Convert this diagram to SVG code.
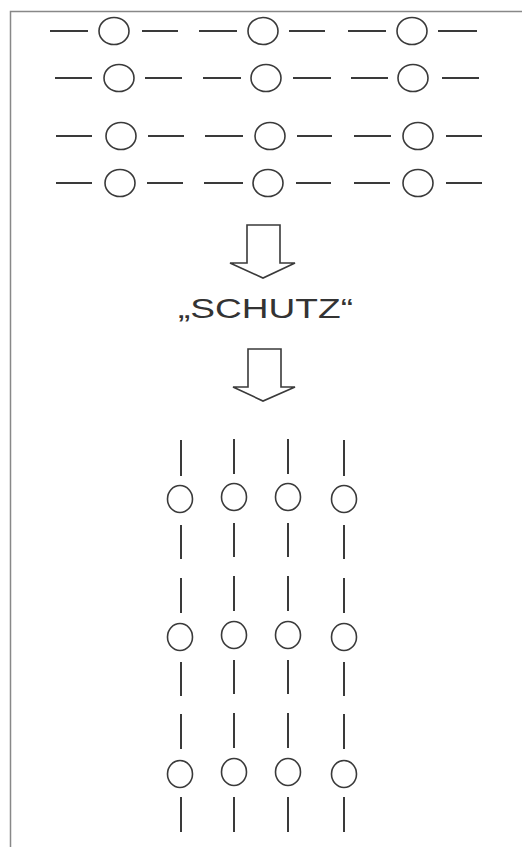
<svg xmlns="http://www.w3.org/2000/svg" width="522" height="847" viewBox="0 0 522 847">
<style>
.d{stroke:#3a3a3a;stroke-width:2;fill:none}
.c{stroke:#3a3a3a;stroke-width:1.6;fill:none}
.a{stroke:#3a3a3a;stroke-width:1.6;fill:none;stroke-linejoin:miter}
.t{font-family:"Liberation Sans",Arial,sans-serif;font-size:28px;fill:#333}
</style>
<rect x="0" y="0" width="522" height="847" fill="#fff"/>
<path d="M10.5 847 V11.5 H522" stroke="#888" stroke-width="1.5" fill="none"/>
<g id="top-rows">
<g id="row1">
<line class="d" x1="50" y1="31" x2="88" y2="31"/><ellipse class="c" cx="114" cy="31" rx="15" ry="13.5"/><line class="d" x1="142" y1="31" x2="178" y2="31"/>
<line class="d" x1="199" y1="31" x2="237" y2="31"/><ellipse class="c" cx="263" cy="31" rx="15" ry="13.5"/><line class="d" x1="289" y1="31" x2="325" y2="31"/>
<line class="d" x1="348" y1="31" x2="386" y2="31"/><ellipse class="c" cx="412" cy="31" rx="15" ry="13.5"/><line class="d" x1="438" y1="31" x2="477" y2="31"/>
</g>
<g id="row2">
<line class="d" x1="55" y1="78" x2="92" y2="78"/><ellipse class="c" cx="119" cy="78" rx="15" ry="13.5"/><line class="d" x1="145" y1="78" x2="182" y2="78"/>
<line class="d" x1="203" y1="78" x2="241" y2="78"/><ellipse class="c" cx="266" cy="78" rx="15" ry="13.5"/><line class="d" x1="293" y1="78" x2="331" y2="78"/>
<line class="d" x1="351" y1="78" x2="388" y2="78"/><ellipse class="c" cx="413" cy="78" rx="15" ry="13.5"/><line class="d" x1="442" y1="78" x2="479" y2="78"/>
</g>
<g id="row3">
<line class="d" x1="56" y1="136" x2="92" y2="136"/><ellipse class="c" cx="121" cy="136" rx="15" ry="13.5"/><line class="d" x1="148" y1="136" x2="184" y2="136"/>
<line class="d" x1="205" y1="136" x2="243" y2="136"/><ellipse class="c" cx="270" cy="136" rx="15" ry="13.5"/><line class="d" x1="297" y1="136" x2="332" y2="136"/>
<line class="d" x1="354" y1="136" x2="391" y2="136"/><ellipse class="c" cx="418" cy="136" rx="15" ry="13.5"/><line class="d" x1="446" y1="136" x2="482" y2="136"/>
</g>
<g id="row4">
<line class="d" x1="56" y1="183" x2="92" y2="183"/><ellipse class="c" cx="120" cy="183" rx="15" ry="13.5"/><line class="d" x1="147" y1="183" x2="183" y2="183"/>
<line class="d" x1="204" y1="183" x2="243" y2="183"/><ellipse class="c" cx="268" cy="183" rx="15" ry="13.5"/><line class="d" x1="296" y1="183" x2="331" y2="183"/>
<line class="d" x1="354" y1="183" x2="390" y2="183"/><ellipse class="c" cx="418" cy="183" rx="15" ry="13.5"/><line class="d" x1="446" y1="183" x2="482" y2="183"/>
</g>
</g>
<g id="arrows">
<path class="a" d="M247 263 V225 H280 V263 H295 L263 278 L230 263 Z"/>
<path class="a" d="M248 387 V349 H281 V387 H295 L263 401 L233 387 Z"/>
</g>
<g id="label"><text class="t" x="178" y="318" textLength="175" lengthAdjust="spacingAndGlyphs">„SCHUTZ“</text></g>
<g id="columns">
<g id="col1">
<line class="d" x1="181" y1="440" x2="181" y2="476"/><ellipse class="c" cx="180" cy="499" rx="12.5" ry="13.5"/><line class="d" x1="181" y1="525" x2="181" y2="559"/>
<line class="d" x1="181" y1="578" x2="181" y2="613"/><ellipse class="c" cx="180" cy="637" rx="12.5" ry="13.5"/><line class="d" x1="181" y1="662" x2="181" y2="696"/>
<line class="d" x1="181" y1="714" x2="181" y2="749"/><ellipse class="c" cx="180" cy="774" rx="12.5" ry="13.5"/><line class="d" x1="181" y1="797" x2="181" y2="832"/>
</g>
<g id="col2">
<line class="d" x1="234" y1="439" x2="234" y2="474"/><ellipse class="c" cx="234" cy="497" rx="12.5" ry="13.5"/><line class="d" x1="234" y1="523" x2="234" y2="557"/>
<line class="d" x1="234" y1="576" x2="234" y2="611"/><ellipse class="c" cx="234" cy="635" rx="12.5" ry="13.5"/><line class="d" x1="234" y1="660" x2="234" y2="694"/>
<line class="d" x1="234" y1="713" x2="234" y2="748"/><ellipse class="c" cx="234" cy="772" rx="12.5" ry="13.5"/><line class="d" x1="234" y1="797" x2="234" y2="832"/>
</g>
<g id="col3">
<line class="d" x1="288" y1="439" x2="288" y2="474"/><ellipse class="c" cx="288" cy="497" rx="12.5" ry="13.5"/><line class="d" x1="288" y1="523" x2="288" y2="557"/>
<line class="d" x1="288" y1="576" x2="288" y2="611"/><ellipse class="c" cx="288" cy="635" rx="12.5" ry="13.5"/><line class="d" x1="288" y1="660" x2="288" y2="694"/>
<line class="d" x1="288" y1="713" x2="288" y2="748"/><ellipse class="c" cx="288" cy="772" rx="12.5" ry="13.5"/><line class="d" x1="288" y1="797" x2="288" y2="832"/>
</g>
<g id="col4">
<line class="d" x1="344" y1="440" x2="344" y2="476"/><ellipse class="c" cx="344" cy="499" rx="12.5" ry="13.5"/><line class="d" x1="344" y1="525" x2="344" y2="559"/>
<line class="d" x1="344" y1="578" x2="344" y2="613"/><ellipse class="c" cx="344" cy="637" rx="12.5" ry="13.5"/><line class="d" x1="344" y1="662" x2="344" y2="696"/>
<line class="d" x1="344" y1="714" x2="344" y2="749"/><ellipse class="c" cx="344" cy="774" rx="12.5" ry="13.5"/><line class="d" x1="344" y1="797" x2="344" y2="832"/>
</g>
</g>
</svg>
